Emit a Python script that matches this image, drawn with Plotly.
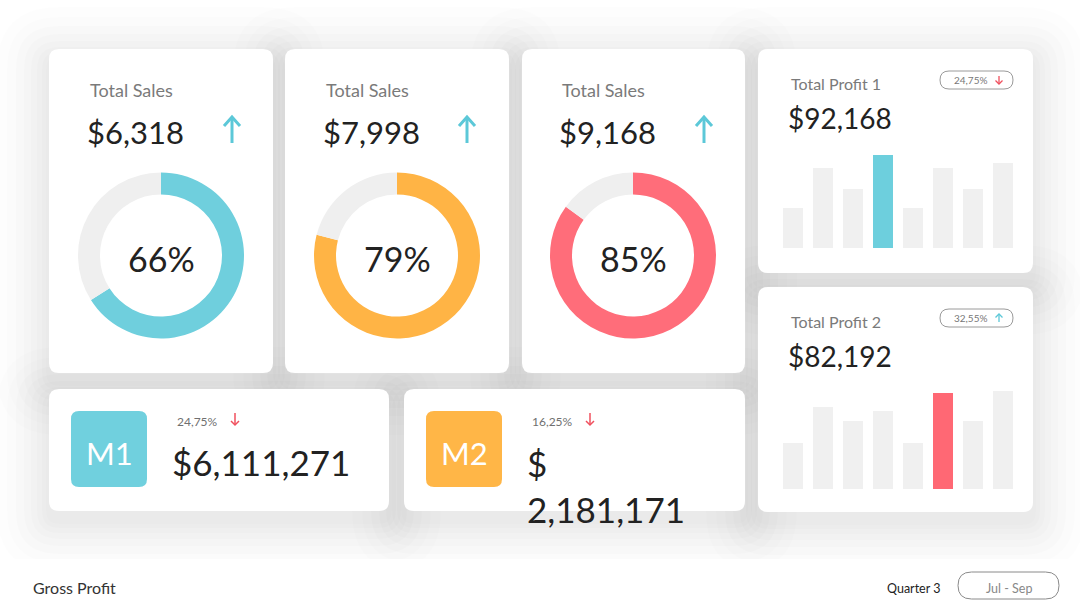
import plotly.graph_objects as go

W, H = 1080, 608

# ---------------- data ----------------
donut_titles = ["Total Sales", "Total Sales", "Total Sales"]
donut_values = ["$6,318", "$7,998", "$9,168"]
donut_pct = [66, 79, 85]
donut_colors = ["#6fcfdd", "#ffb445", "#ff6d7a"]

profit_titles = ["Total Profit 1", "Total Profit 2"]
profit_values = ["$92,168", "$82,192"]
profit_change = ["24,75%", "32,55%"]
profit_dir = ["down", "up"]
profit1_bars = [40, 80, 59, 93, 40, 80, 59, 85]
profit2_bars = [46, 82, 68, 78, 46, 96, 68, 98]
profit_highlight = [3, 5]
profit_hl_colors = ["#6dcfdd", "#ff6874"]

m_labels = ["M1", "M2"]
m_change = ["24,75%", "16,25%"]
m_values = ["$6,111,271", "$<br>2,181,171"]
m_colors = ["#70d0de", "#ffb647"]

footer_title = "Gross Profit"
quarter_label = "Quarter 3"
quarter_range = "Jul - Sep"

FONT = "Lato"
TEAL = "#5cc8d8"
RED = "#f0505e"


def X(p):
    return p / W


def Y(p):
    return 1 - p / H


def rr_path(x0, y0, x1, y1, r):
    return (f"M {X(x0+r)},{Y(y0)} L {X(x1-r)},{Y(y0)} Q {X(x1)},{Y(y0)} {X(x1)},{Y(y0+r)} "
            f"L {X(x1)},{Y(y1-r)} Q {X(x1)},{Y(y1)} {X(x1-r)},{Y(y1)} "
            f"L {X(x0+r)},{Y(y1)} Q {X(x0)},{Y(y1)} {X(x0)},{Y(y1-r)} "
            f"L {X(x0)},{Y(y0+r)} Q {X(x0)},{Y(y0)} {X(x0+r)},{Y(y0)} Z")


shapes = []
annotations = []

SHADOW_LAYERS = [(3, 0.009), (7, 0.01), (12, 0.011), (18, 0.011), (25, 0.011),
                 (33, 0.01), (42, 0.009), (52, 0.007)]


def card(x0, y0, x1, y1, r=10):
    dy = 10
    for g, op in SHADOW_LAYERS:
        shapes.append(dict(type="path", path=rr_path(x0 - g, y0 - g + dy, x1 + g, y1 + g + dy, r + g),
                           xref="paper", yref="paper", fillcolor="black", opacity=op,
                           line=dict(width=0), layer="below"))


def card_fill(x0, y0, x1, y1, r=10):
    shapes.append(dict(type="path", path=rr_path(x0, y0, x1, y1, r), xref="paper", yref="paper",
                       fillcolor="white", line=dict(width=0), layer="below"))


def arrow(x, yt, yb, direction, color, hw, depth, width):
    shapes.append(dict(type="line", x0=X(x), x1=X(x), y0=Y(yt), y1=Y(yb), xref="paper", yref="paper",
                       line=dict(color=color, width=width)))
    if direction == "up":
        p = f"M {X(x-hw)},{Y(yt+depth)} L {X(x)},{Y(yt)} L {X(x+hw)},{Y(yt+depth)}"
    else:
        p = f"M {X(x-hw)},{Y(yb-depth)} L {X(x)},{Y(yb)} L {X(x+hw)},{Y(yb-depth)}"
    shapes.append(dict(type="path", path=p, xref="paper", yref="paper",
                       line=dict(color=color, width=width)))


def text(x, y, s, size, color, anchor="left", family=FONT):
    annotations.append(dict(x=X(x), y=Y(y), xref="paper", yref="paper", text=s, showarrow=False,
                            xanchor=anchor, yanchor="middle",
                            font=dict(family=family, size=size, color=color)))


cards = [
    (49, 49, 273, 373), (285, 49, 509, 373), (522, 49, 745, 373),
    (758, 49, 1033, 273), (758, 287, 1033, 512),
    (49, 389, 389, 511), (404, 389, 745, 511),
]
for c in cards:
    card(*c)
# footer strip
shapes.append(dict(type="rect", x0=0, x1=1, y0=0, y1=Y(559), xref="paper", yref="paper",
                   fillcolor="white", line=dict(width=0), layer="below"))
for c in cards:
    card_fill(*c)

fig = go.Figure()

# ---------------- donuts ----------------
centers_x = [161, 397, 633]
cy, R = 255.5, 83
arrow_x = [232, 467, 704]
for i in range(3):
    cx = centers_x[i]
    fig.add_trace(go.Pie(
        values=[donut_pct[i], 100 - donut_pct[i]],
        sort=False, direction="clockwise", rotation=0, hole=0.735,
        marker=dict(colors=[donut_colors[i], "#efefef"], line=dict(width=0)),
        textinfo="none", hoverinfo="skip", showlegend=False,
        domain=dict(x=[X(cx - R), X(cx + R)], y=[Y(cy + R), Y(cy - R)]),
    ))
    left = cx - 73
    text(left, 90, donut_titles[i], 18, "#7a7a7a")
    text(left - 3, 132, donut_values[i], 31, "#222222")
    text(cx, 258, f"{donut_pct[i]}%", 34, "#222222", anchor="center")
    arrow(arrow_x[i], 117, 143, "up", TEAL, 8, 9, 3)

# ---------------- profit bar cards ----------------
bar_sets = [profit1_bars, profit2_bars]
card_tops = [49, 287]
bar_bottoms = [248, 489]
for k in range(2):
    vals = bar_sets[k]
    colors = ["#f0f0f0"] * len(vals)
    colors[profit_highlight[k]] = profit_hl_colors[k]
    xa = "x" + str(k + 2)
    ya = "y" + str(k + 2)
    fig.add_trace(go.Bar(x=list(range(len(vals))), y=vals, marker=dict(color=colors, line=dict(width=0)),
                         xaxis=xa, yaxis=ya, hoverinfo="skip", showlegend=False))
    bb = bar_bottoms[k]
    fig.layout[f"xaxis{k+2}"] = dict(domain=[X(778), X(1018)], range=[-0.5, 7.5], visible=False,
                                      anchor=ya, fixedrange=True)
    fig.layout[f"yaxis{k+2}"] = dict(domain=[Y(bb), Y(bb - 100)], range=[0, 100], visible=False,
                                      anchor=xa, fixedrange=True)
    t = card_tops[k]
    text(789, t + 34, profit_titles[k], 16, "#7a7a7a")
    text(786, t + 69, profit_values[k], 28, "#222222")
    # pill
    py0, py1 = t + 22, t + 40
    shapes.append(dict(type="path", path=rr_path(940, py0, 1013, py1, 9), xref="paper", yref="paper",
                       line=dict(color="#9a9a9a", width=1), fillcolor="rgba(0,0,0,0)"))
    text(971, (py0 + py1) / 2, profit_change[k], 10, "#777777", anchor="center")
    col = RED if profit_dir[k] == "down" else TEAL
    arrow(999, py0 + 5, py1 - 5, profit_dir[k], col, 3.5, 3.5, 1.3)

# ---------------- M cards ----------------
m_x = [71, 426]
for k in range(2):
    x0 = m_x[k]
    shapes.append(dict(type="path", path=rr_path(x0, 411, x0 + 76, 487, 8), xref="paper", yref="paper",
                       fillcolor=m_colors[k], line=dict(width=0), layer="below"))
    text(x0 + 38, 453, m_labels[k], 31, "white", anchor="center")
    text(x0 + 104, 421, m_change[k], 12, "#707070")
    arrow(x0 + 164, 413, 425, "down", RED, 4, 4, 1.5)

text(170, 462, m_values[0], 35, "#222222")
annotations.append(dict(x=X(525), y=Y(440), xref="paper", yref="paper", text=m_values[1], showarrow=False,
                        xanchor="left", yanchor="top", align="left",
                        font=dict(family=FONT, size=35, color="#222222")))

# ---------------- footer ----------------
text(31, 587, footer_title, 16, "#333333")
text(885, 588, quarter_label, 12.5, "#222222")
shapes.append(dict(type="path", path=rr_path(958, 572, 1059, 599, 13.5), xref="paper", yref="paper",
                   line=dict(color="#8a8a8a", width=1), fillcolor="rgba(0,0,0,0)"))
text(1008.5, 588, quarter_range, 12.5, "#888888", anchor="center")

fig.update_layout(
    width=W, height=H, autosize=False,
    margin=dict(l=0, r=0, t=0, b=0),
    paper_bgcolor="white", plot_bgcolor="rgba(0,0,0,0)",
    shapes=shapes, annotations=annotations,
    bargap=1 / 3, showlegend=False,
    font=dict(family=FONT),
)
fig.write_html("out.html", config={"displayModeBar": False, "staticPlot": True})
